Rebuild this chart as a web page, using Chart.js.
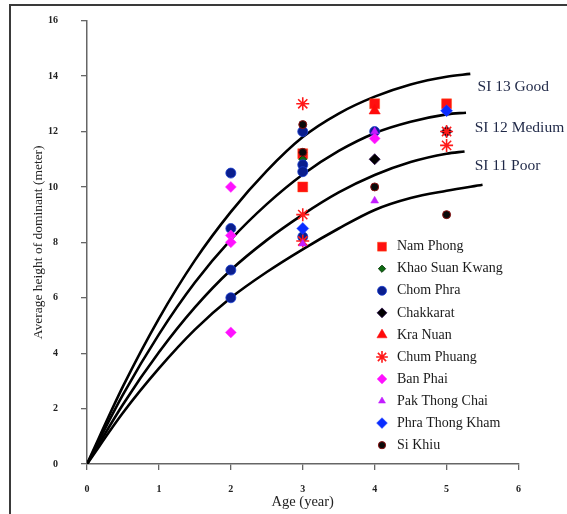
<!DOCTYPE html>
<html>
<head>
<meta charset="utf-8">
<script src="https://cdn.jsdelivr.net/npm/chart.js@4.4.1/dist/chart.umd.min.js"></script>
<style>
  html, body { margin: 0; padding: 0; background: #fff; }
  #wrap { position: relative; width: 567px; height: 514px; overflow: hidden; }
  #frame { position: absolute; left: 9px; top: 4px; width: 620px; height: 620px; border: 2px solid #3a3a3a; }
  canvas { position: absolute; left: 0; top: 0; }
</style>
</head>
<body>
<div id="wrap">
  <div id="frame"></div>
  <canvas id="chart" width="567" height="514"></canvas>
</div>
<script>
// SITE INDEX CURVES
const si13Age = [0, 0.5, 1, 1.5, 2, 2.5, 3, 3.5, 4, 4.5, 5, 5.33];
const si13Height = [0, 2.8, 5.25, 7.35, 9.1, 10.58, 11.8, 12.65, 13.26, 13.7, 13.98, 14.08];
const si12Age = [0, 0.5, 1, 1.5, 2, 2.5, 3, 3.5, 4, 4.5, 5, 5.27];
const si12Height = [0, 2.5, 4.68, 6.55, 8.1, 9.38, 10.45, 11.3, 11.94, 12.35, 12.62, 12.68];
const si11Age = [0, 0.5, 1, 1.5, 2, 2.5, 3, 3.5, 4, 4.5, 5, 5.25];
const si11Height = [0, 2.15, 4.03, 5.65, 7.0, 8.08, 9.0, 9.8, 10.43, 10.9, 11.2, 11.28];
const si10Age = [0, 0.5, 1, 1.5, 2, 2.5, 3, 3.5, 4, 4.5, 5, 5.5];
const si10Height = [0, 1.85, 3.45, 4.85, 6.0, 6.93, 7.75, 8.5, 9.17, 9.6, 9.86, 10.08];

const siLabels = ["SI 13 Good", "SI 12 Medium", "SI 11 Poor"];

// SITES: [age, height]
const siteNames = ["Nam Phong", "Khao Suan Kwang", "Chom Phra", "Chakkarat", "Kra Nuan",
  "Chum Phuang", "Ban Phai", "Pak Thong Chai", "Phra Thong Kham", "Si Khiu"];
const namPhong = [[3, 11.2], [3, 10], [4, 13], [5, 13]];
const khaoSuanKwang = [[3, 11]];
const chomPhra = [[2, 10.5], [2, 8.5], [2, 7], [2, 6], [3, 12], [3, 10.8], [3, 10.55], [3, 8.2], [4, 12]];
const chakkarat = [[4, 11], [5, 12]];
const kraNuan = [[4, 12.75]];
const chumPhuang = [[3, 13], [3, 9], [3, 8.05], [5, 12], [5, 11.5]];
const banPhai = [[2, 10], [2, 8.25], [2, 8], [2, 4.75], [4, 11.75]];
const pakThongChai = [[3, 7.95], [4, 12], [4, 9.5], [5, 12.75]];
const phraThongKham = [[3, 8.5], [5, 12.75]];
const siKhiu = [[3, 12.25], [3, 11.25], [4, 10], [5, 9]];
const siteData = [namPhong, khaoSuanKwang, chomPhra, chakkarat, kraNuan,
  chumPhuang, banPhai, pakThongChai, phraThongKham, siKhiu];

// marker looks, same order as siteNames
const siteStyles = [
  { pointStyle: "rect", pointRadius: 7, backgroundColor: "#ff1010", borderColor: "#ff4a10", pointBorderWidth: 0.5 },
  { pointStyle: "rectRot", pointRadius: 4, backgroundColor: "#0d6b12", borderColor: "#063a08", pointBorderWidth: 1 },
  { pointStyle: "circle", pointRadius: 5, backgroundColor: "#0a1e8e", borderColor: "#1b3fd0", pointBorderWidth: 0.8 },
  { pointStyle: "rectRot", pointRadius: 5.5, backgroundColor: "#000000", borderColor: "#2a0a4a", pointBorderWidth: 0.8 },
  { pointStyle: "triangle", pointRadius: 6.5, backgroundColor: "#ff0a0a", borderColor: "#ff0a0a", pointBorderWidth: 0.5 },
  { pointStyle: "star", pointRadius: 6.5, backgroundColor: "#ff1a1a", borderColor: "#ff1a1a", pointBorderWidth: 1.6 },
  { pointStyle: "rectRot", pointRadius: 5.5, backgroundColor: "#ff10ff", borderColor: "#ff40ff", pointBorderWidth: 0.5 },
  { pointStyle: "triangle", pointRadius: 4.5, backgroundColor: "#c21cff", borderColor: "#c21cff", pointBorderWidth: 0.5 },
  { pointStyle: "rectRot", pointRadius: 6, backgroundColor: "#0a2cff", borderColor: "#2a4cff", pointBorderWidth: 0.5 },
  { pointStyle: "circle", pointRadius: 4, backgroundColor: "#0a0a0a", borderColor: "#8a1010", pointBorderWidth: 1 }
];

const toPoints = (xs, ys) => xs.map((x, i) => ({ x: x, y: ys[i] }));

const datasets = [];
siteNames.forEach((name, i) => {
  const s = siteStyles[i];
  datasets.push({
    label: name,
    inLegend: true,
    data: siteData[i].map(p => ({ x: p[0], y: p[1] })),
    pointStyle: s.pointStyle,
    pointRadius: s.pointRadius,
    pointBackgroundColor: s.backgroundColor,
    pointBorderColor: s.borderColor,
    pointBorderWidth: s.pointBorderWidth,
    backgroundColor: s.backgroundColor,
    borderColor: s.borderColor,
    showLine: false,
    order: 100 - i
  });
});

[[si13Age, si13Height], [si12Age, si12Height], [si11Age, si11Height], [si10Age, si10Height]]
  .forEach((c, i) => {
    datasets.push({
      label: "curve" + i,
      data: toPoints(c[0], c[1]),
      showLine: true,
      borderColor: "#000",
      borderWidth: 2.6,
      pointRadius: 0,
      cubicInterpolationMode: "monotone",
      fill: false,
      order: 200
    });
  });

// where the SI labels sit, in data units
const siLabelAt = [[5.43, 13.62], [5.39, 12.12], [5.39, 10.76]];

const overlay = {
  id: "overlay",
  afterDraw(chart) {
    const ctx = chart.ctx;
    const xs = chart.scales.x, ys = chart.scales.y;
    ctx.save();
    ctx.textBaseline = "middle";
    ctx.textAlign = "left";
    ctx.font = '15.5px "Liberation Serif"';
    ctx.fillStyle = "#1f2847";
    siLabels.forEach((t, i) => {
      ctx.fillText(t, xs.getPixelForValue(siLabelAt[i][0]), ys.getPixelForValue(siLabelAt[i][1]));
    });

    // legend
    const drawPt = Chart.helpers && Chart.helpers.drawPoint;
    let y = 246.7;
    ctx.font = '14px "Liberation Serif"';
    chart.data.datasets.forEach(ds => {
      if (!ds.inLegend) return;
      ctx.fillStyle = ds.pointBackgroundColor;
      ctx.strokeStyle = ds.pointBorderColor;
      ctx.lineWidth = ds.pointBorderWidth;
      const opts = { pointStyle: ds.pointStyle, radius: ds.pointRadius * 0.9, rotation: 0, borderWidth: ds.pointBorderWidth };
      if (drawPt) {
        drawPt(ctx, opts, 382, y);
      } else {
        ctx.beginPath();
        ctx.arc(382, y, opts.radius, 0, Math.PI * 2);
        ctx.fill();
      }
      ctx.fillStyle = "#1a1a1a";
      ctx.fillText(ds.label, 397, y);
      y += 22.05;
    });
    ctx.restore();
  }
};

const tickFont = { family: "Liberation Serif", size: 10, weight: "bold" };

new Chart(document.getElementById("chart"), {
  type: "scatter",
  data: { datasets: datasets },
  options: {
    responsive: false,
    animation: false,
    layout: { padding: { top: 20.7, right: 48.5, left: 0, bottom: 0 } },
    plugins: { legend: { display: false }, tooltip: { enabled: false } },
    scales: {
      x: {
        type: "linear", min: 0, max: 6,
        ticks: { stepSize: 1, font: tickFont, color: "#222", padding: 13 },
        grid: { drawOnChartArea: false, drawTicks: true, tickLength: 6, color: "#666", lineWidth: 1.3 },
        border: { display: true, color: "#666", width: 1.5 },
        title: { display: true, text: "Age (year)", font: { family: "Liberation Serif", size: 14.5 }, color: "#222", padding: { top: 0, bottom: 3 } },
        afterFit(s) { s.height = 50; s.paddingLeft = 0; s.paddingRight = 0; }
      },
      y: {
        type: "linear", min: 0, max: 16,
        ticks: { stepSize: 2, font: tickFont, color: "#222", padding: 23 },
        grid: { drawOnChartArea: false, drawTicks: true, tickLength: 6, color: "#666", lineWidth: 1.3 },
        border: { display: true, color: "#666", width: 1.5 },
        title: { display: true, text: "Average height of dominant (meter)", font: { family: "Liberation Serif", size: 13.5 }, color: "#222", padding: { top: 30, bottom: 0 } },
        afterFit(s) { s.width = 87; s.paddingTop = 0; s.paddingBottom = 0; }
      }
    }
  },
  plugins: [overlay]
});
</script>
</body>
</html>
